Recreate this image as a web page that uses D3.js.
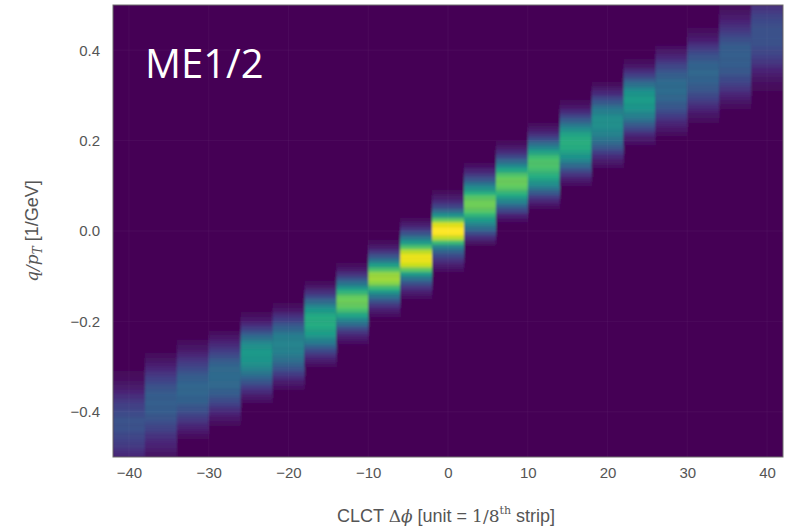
<!DOCTYPE html>
<html><head><meta charset="utf-8">
<script src="https://cdn.jsdelivr.net/npm/d3@7"></script>
<style>body{margin:0;background:#fff}svg{display:block}</style>
</head><body>
<svg id="c" width="790" height="531"></svg>
<script>
// Column centers of CLCT delta-phi bins (width 4)
const xCenters = [-40,-36,-32,-28,-24,-20,-16,-12,-8,-4,0,4,8,12,16,20,24,28,32,36,40];
const xBinWidth = 4;
const yBinWidth = 0.01;
// lower edge of the first listed q/pT bin of each column
const yStart = [-0.50,-0.50,-0.46,-0.43,-0.38,-0.35,-0.30,-0.25,-0.19,-0.15,-0.09,-0.03,0.02,0.05,0.10,0.14,0.19,0.21,0.24,0.27,0.31];
// normalized counts per column, bottom to top
const colValues = [
 [0.12,0.14,0.17,0.19,0.21,0.23,0.25,0.25,0.25,0.23,0.21,0.19,0.16,0.13,0.1,0.07,0.05,0.03,0.02],
 [0.05,0.07,0.09,0.11,0.14,0.17,0.2,0.23,0.26,0.28,0.29,0.3,0.3,0.29,0.28,0.25,0.22,0.19,0.15,0.11,0.08,0.05,0.03],
 [0.03,0.06,0.09,0.13,0.17,0.21,0.25,0.28,0.31,0.32,0.33,0.33,0.32,0.3,0.27,0.23,0.19,0.15,0.11,0.07,0.05,0.03],
 [0.03,0.06,0.09,0.13,0.18,0.23,0.27,0.3,0.33,0.34,0.35,0.35,0.34,0.32,0.28,0.23,0.18,0.13,0.09,0.06,0.03],
 [0.04,0.07,0.12,0.18,0.25,0.32,0.39,0.45,0.5,0.53,0.54,0.54,0.51,0.45,0.36,0.27,0.18,0.11,0.06,0.03],
 [0.04,0.07,0.12,0.18,0.25,0.31,0.37,0.41,0.44,0.45,0.45,0.43,0.39,0.32,0.25,0.18,0.12,0.06,0.03],
 [0.04,0.08,0.14,0.22,0.32,0.42,0.5,0.56,0.6,0.62,0.62,0.6,0.54,0.45,0.34,0.23,0.14,0.07,0.03],
 [0.04,0.08,0.14,0.24,0.36,0.48,0.6,0.7,0.76,0.78,0.76,0.66,0.52,0.38,0.25,0.14,0.07,0.03],
 [0.04,0.08,0.15,0.25,0.38,0.52,0.68,0.82,0.86,0.84,0.72,0.56,0.4,0.26,0.15,0.07,0.03],
 [0.04,0.08,0.15,0.25,0.38,0.55,0.75,0.92,0.97,0.97,0.9,0.72,0.55,0.4,0.26,0.15,0.08,0.03],
 [0.04,0.08,0.14,0.22,0.32,0.45,0.68,0.9,1.0,1.0,0.95,0.75,0.52,0.34,0.2,0.12,0.07,0.03],
 [0.05,0.12,0.22,0.35,0.45,0.55,0.65,0.74,0.78,0.78,0.74,0.62,0.5,0.38,0.26,0.16,0.09,0.04],
 [0.04,0.1,0.2,0.32,0.45,0.56,0.66,0.74,0.77,0.77,0.72,0.6,0.47,0.34,0.22,0.13,0.07,0.03],
 [0.04,0.09,0.17,0.28,0.4,0.5,0.58,0.64,0.69,0.72,0.72,0.68,0.58,0.46,0.34,0.22,0.13,0.07,0.03],
 [0.04,0.08,0.15,0.24,0.34,0.44,0.52,0.58,0.62,0.63,0.62,0.58,0.5,0.4,0.3,0.2,0.12,0.06,0.03],
 [0.04,0.07,0.12,0.19,0.27,0.34,0.4,0.45,0.48,0.5,0.5,0.48,0.43,0.36,0.28,0.2,0.12,0.07,0.03],
 [0.04,0.07,0.12,0.2,0.28,0.36,0.43,0.49,0.53,0.55,0.55,0.52,0.46,0.37,0.28,0.19,0.12,0.06,0.03],
 [0.03,0.06,0.09,0.13,0.18,0.23,0.27,0.3,0.33,0.35,0.35,0.35,0.33,0.3,0.26,0.21,0.16,0.11,0.07,0.04],
 [0.03,0.05,0.08,0.12,0.16,0.2,0.24,0.28,0.3,0.32,0.33,0.33,0.32,0.3,0.26,0.22,0.17,0.12,0.08,0.05,0.03],
 [0.03,0.05,0.08,0.11,0.15,0.19,0.22,0.25,0.28,0.29,0.3,0.3,0.3,0.29,0.27,0.24,0.2,0.16,0.13,0.1,0.07,0.05,0.03],
 [0.02,0.03,0.05,0.07,0.1,0.13,0.16,0.19,0.21,0.23,0.25,0.25,0.25,0.25,0.24,0.22,0.2,0.17,0.15]
];
const xTicks = [-40,-30,-20,-10,0,10,20,30,40];
const yTicks = [-0.4,-0.2,0.0,0.2,0.4];
const xDomain = [-42, 42];
const yDomain = [-0.5, 0.5];
const panelLabel = "ME1/2";

const svg = d3.select("#c");
const L = 113, R = 783, T = 5, B = 457;
const x = d3.scaleLinear().domain(xDomain).range([L, R]);
const y = d3.scaleLinear().domain(yDomain).range([B, T]);
const color = d3.interpolateViridis;

const defs = svg.append("defs");
defs.append("clipPath").attr("id","clip").append("rect")
  .attr("x",L).attr("y",T).attr("width",R-L).attr("height",B-T);
const f = defs.append("filter").attr("id","soft").attr("x","-5%").attr("y","-5%").attr("width","110%").attr("height","110%");
f.append("feGaussianBlur").attr("stdDeviation","1.2 1.6");

const plot = svg.append("g").attr("clip-path","url(#clip)");
const inner = plot.append("g").attr("filter","url(#soft)");
inner.append("rect").attr("x",L-10).attr("y",T-10).attr("width",R-L+20).attr("height",B-T+20).attr("fill",color(0));

const cells = [];
xCenters.forEach((c,i)=>{
  colValues[i].forEach((v,j)=>{
    const lo = yStart[i] + j*yBinWidth;
    cells.push({c, lo, hi: lo + yBinWidth, v});
  });
});
inner.selectAll("rect.cell").data(cells).join("rect").attr("class","cell")
  .attr("x", d=>x(d.c - xBinWidth/2))
  .attr("width", d=>x(d.c + xBinWidth/2) - x(d.c - xBinWidth/2) + 0.3)
  .attr("y", d=>y(d.hi))
  .attr("height", d=>y(d.lo) - y(d.hi) + 0.3)
  .attr("fill", d=>color(d.v));

// faint grid
plot.append("g").selectAll("line.gx").data(xTicks).join("line")
  .attr("x1",d=>x(d)).attr("x2",d=>x(d)).attr("y1",T).attr("y2",B)
  .attr("stroke","#fff").attr("stroke-opacity",0.04);
plot.append("g").selectAll("line.gy").data(yTicks).join("line")
  .attr("y1",d=>y(d)).attr("y2",d=>y(d)).attr("x1",L).attr("x2",R)
  .attr("stroke","#fff").attr("stroke-opacity",0.04);

svg.append("rect").attr("x",L).attr("y",T).attr("width",R-L).attr("height",B-T)
  .attr("fill","none").attr("stroke","#6e6e6e").attr("stroke-width",1);

// axes
const fmtX = d => d < 0 ? "\u2212" + Math.abs(d) : String(d);
const xAxis = d3.axisBottom(x).tickValues(xTicks).tickSize(0).tickPadding(10).tickFormat(fmtX);
const gx = svg.append("g").attr("transform",`translate(0,${B})`).call(xAxis);
const fmtY = d => (d < 0 ? "\u2212" : "") + Math.abs(d).toFixed(1);
const yAxis = d3.axisLeft(y).tickValues(yTicks).tickSize(0).tickPadding(13).tickFormat(fmtY);
const gy = svg.append("g").attr("transform",`translate(${L},0)`).call(yAxis);
[gx, gy].forEach(g=>{
  g.select(".domain").remove();
  g.selectAll("text").attr("font-family","Liberation Sans, Arial, sans-serif")
   .attr("font-size",15).attr("fill","#555");
});

// x label
const xl = svg.append("text").attr("x",(L+R)/2 - 2).attr("y",522).attr("text-anchor","middle")
  .attr("font-family","Liberation Sans, Arial, sans-serif").attr("font-size",18).attr("fill","#555");
xl.append("tspan").text("CLCT ");
xl.append("tspan").attr("font-family","DejaVu Serif, serif").attr("font-size",17).text("\u0394");
xl.append("tspan").attr("font-family","DejaVu Serif, serif").attr("font-style","italic").attr("font-size",17).text("\u03d5");
xl.append("tspan").text(" [unit = ");
xl.append("tspan").attr("font-family","DejaVu Serif, serif").attr("font-size",17).text("1/8");
xl.append("tspan").attr("font-family","DejaVu Serif, serif").attr("font-size",11).attr("dy",-8).text("th");
xl.append("tspan").attr("dy",8).text(" strip]");

// y label
const yl = svg.append("text").attr("transform",`translate(38,${(T+B)/2}) rotate(-90)`).attr("text-anchor","middle")
  .attr("font-family","Liberation Sans, Arial, sans-serif").attr("font-size",18).attr("fill","#555");
yl.append("tspan").attr("font-family","DejaVu Serif, serif").attr("font-style","italic").attr("font-size",17).text("q/p");
yl.append("tspan").attr("font-family","DejaVu Serif, serif").attr("font-style","italic").attr("font-size",12).attr("dy",4).text("T");
yl.append("tspan").attr("dy",-4).text(" [1/GeV]");

// panel label
svg.append("text").attr("x",145).attr("y",78).attr("font-family","Open Sans, Noto Sans, sans-serif")
  .attr("font-size",40).attr("fill","#fff").text(panelLabel);
</script>
</body></html>
